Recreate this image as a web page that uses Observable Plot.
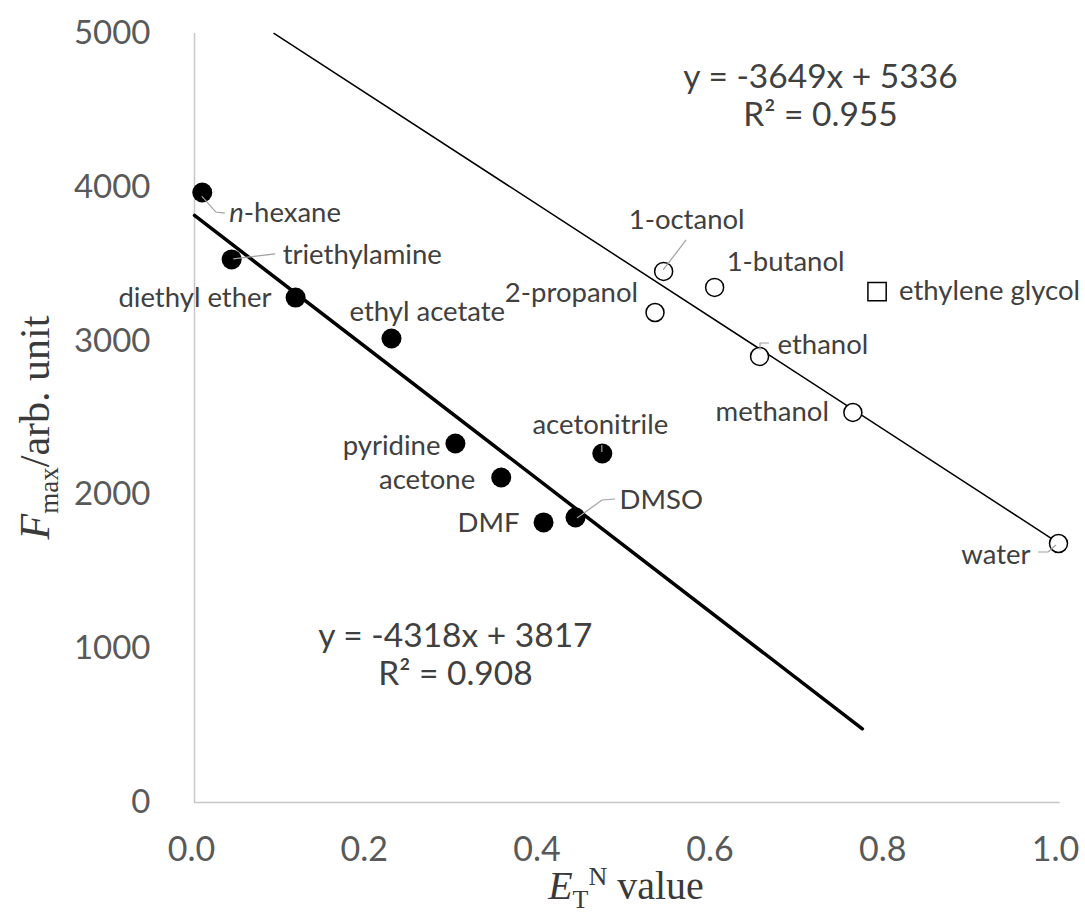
<!DOCTYPE html>
<html>
<head>
<meta charset="utf-8">
<script src="https://cdn.jsdelivr.net/npm/d3@7"></script>
<script src="https://cdn.jsdelivr.net/npm/@observablehq/plot@0.6"></script>
<style>
  html, body { margin: 0; padding: 0; background: #fff; }
  svg { display: block; }
</style>
</head>
<body>
<div id="chart"></div>
<script>
// ---------- data ----------
const aproticNames = ["n-hexane", "triethylamine", "diethyl ether", "ethyl acetate", "pyridine", "acetone", "DMF", "DMSO", "acetonitrile"];
const aproticET    = [0.009, 0.043, 0.117, 0.228, 0.302, 0.355, 0.404, 0.441, 0.472];
const aproticF     = [3966, 3531, 3283, 3017, 2334, 2113, 1821, 1853, 2269];

const proticNames  = ["1-octanol", "2-propanol", "1-butanol", "ethanol", "methanol", "water"];
const proticET     = [0.543, 0.533, 0.602, 0.654, 0.762, 1.0];
const proticF      = [3453, 3186, 3349, 2900, 2536, 1684];

const glycolNames  = ["ethylene glycol"];
const glycolET     = [0.790];
const glycolF      = [3322];

const fitSlopes     = [-4318, -3649];
const fitIntercepts = [3817, 5336];
const fitR2         = ["0.908", "0.955"];
const fitXStart     = [0, 0.092];
const fitXEnd       = [0.773, 1.0];

const xTicks = [0, 0.2, 0.4, 0.6, 0.8, 1.0];
const yTicks = [0, 1000, 2000, 3000, 4000, 5000];

// ---------- layout (label offsets in px relative to the point) ----------
const labelLayout = {
  "n-hexane":        {dx: 27,  dy: 21,  anchor: "start",  leader: [[0, 4], [14, 20], [23, 21]]},
  "triethylamine":   {dx: 51,  dy: -4,  anchor: "start",  leader: [[2, 0], [44, -5]]},
  "diethyl ether":   {dx: -24, dy: 1,   anchor: "end"},
  "ethyl acetate":   {dx: -42, dy: -26, anchor: "start"},
  "pyridine":        {dx: -15, dy: 3,   anchor: "end"},
  "acetone":         {dx: -26, dy: 3,   anchor: "end"},
  "DMF":             {dx: -24, dy: 1,   anchor: "end"},
  "DMSO":            {dx: 44,  dy: -17, anchor: "start",  leader: [[2, 1], [27, -17], [40, -18]]},
  "acetonitrile":    {dx: -2,  dy: -28, anchor: "middle", leader: [[0, -1], [0, -8]]},
  "1-octanol":       {dx: 23,  dy: -51, anchor: "middle", leader: [[0, -1], [23, -31]]},
  "2-propanol":      {dx: -17, dy: -19, anchor: "end"},
  "1-butanol":       {dx: 12,  dy: -25, anchor: "start"},
  "ethanol":         {dx: 18,  dy: -11, anchor: "start",  leader: [[1, -6], [1, -13], [10, -13]]},
  "methanol":        {dx: -24, dy: 0,   anchor: "end"},
  "water":           {dx: -28, dy: 12,  anchor: "end",    leader: [[-2, 2], [-10, 9], [-20, 9]]},
  "ethylene glycol": {dx: 22,  dy: 0,   anchor: "start"}
};
// equation text placement (data units)
const eqLayout = [{x: 0.302, y: 965}, {x: 0.7245, y: 4600}];

// ---------- build tables ----------
const aprotic = aproticNames.map((n, i) => ({name: n, x: aproticET[i], y: aproticF[i]}));
const protic  = proticNames.map((n, i) => ({name: n, x: proticET[i], y: proticF[i]}));
const glycol  = glycolNames.map((n, i) => ({name: n, x: glycolET[i], y: glycolF[i]}));
const allPts  = [...aprotic, ...protic, ...glycol];

const fits = fitSlopes.map((s, i) => ({
  id: i,
  pts: [fitXStart[i], fitXEnd[i]].map(x => ({x, y: s * x + fitIntercepts[i]})),
  text: `y = ${s}x + ${fitIntercepts[i]}\nR² = ${fitR2[i]}`,
  ex: eqLayout[i].x, ey: eqLayout[i].y
}));

const labelFont = "Lato, 'Open Sans', sans-serif";
const textColor = "#404040";

const labelMarks = allPts.map(p => {
  const L = labelLayout[p.name];
  return Plot.text([p], {
    x: "x", y: "y", text: "name",
    dx: L.dx, dy: L.dy, textAnchor: L.anchor,
    fontSize: 27.5, fill: textColor, fontFamily: labelFont
  });
});

const chart = Plot.plot({
  width: 1085,
  height: 918,
  marginLeft: 194,
  marginRight: 27,
  marginTop: 33,
  marginBottom: 116,
  x: {domain: [0, 1]},
  y: {domain: [0, 5000]},
  style: {fontFamily: labelFont, background: "#fff"},
  marks: [
    Plot.axisX({ticks: xTicks, tickSize: 0, tickPadding: 34, fontSize: 34, color: "#595959", tickFormat: d3.format(".1f"), label: null, dx: -3}),
    Plot.axisY({ticks: yTicks, tickSize: 0, tickPadding: 44, fontSize: 33, color: "#595959", tickFormat: d3.format("d"), label: null}),
    Plot.ruleX([0], {y1: 0, y2: 5000, stroke: "#c8c8c8", strokeWidth: 1.5}),
    Plot.ruleY([0], {x1: 0, x2: 1.002, stroke: "#c8c8c8", strokeWidth: 1.5}),
    Plot.line(fits[0].pts, {x: "x", y: "y", stroke: "#000", strokeWidth: 3.5}),
    Plot.line(fits[1].pts, {x: "x", y: "y", stroke: "#000", strokeWidth: 1.5}),
    Plot.dot(aprotic, {x: "x", y: "y", r: 10, fill: "#000", stroke: "none"}),
    Plot.dot(protic, {x: "x", y: "y", r: 9, fill: "#fff", stroke: "#000", strokeWidth: 1.5}),
    Plot.dot(glycol, {x: "x", y: "y", r: 10.3, symbol: "square", fill: "#fff", stroke: "#000", strokeWidth: 1.5}),
    ...labelMarks,
    ...fits.map(f => Plot.text([f], {x: "ex", y: "ey", text: "text", fontSize: 33.5, lineHeight: 1.12, fill: textColor, fontFamily: labelFont, textAnchor: "middle"}))
  ]
});

document.getElementById("chart").appendChild(chart);

// ---------- post: leaders, italics, axis titles ----------
const svg = d3.select(chart);
const sx = chart.scale("x"), sy = chart.scale("y");
const leaderG = svg.append("g").attr("fill", "none").attr("stroke", "#a0a0a0").attr("stroke-width", 1.2);
allPts.forEach(p => {
  const L = labelLayout[p.name];
  if (!L.leader) return;
  const px = sx.apply(p.x), py = sy.apply(p.y);
  leaderG.append("path").attr("d", d3.line()(L.leader.map(([a, b]) => [px + a, py + b])));
});

// italic "n" in n-hexane
svg.selectAll("text").filter(function() { return this.textContent === "n-hexane"; }).each(function() {
  const t = d3.select(this);
  t.text(null);
  t.append("tspan").attr("font-style", "italic").text("n");
  t.append("tspan").text("-hexane");
});

const W = 1085, mL = 194, mR = 27, mT = 33, mB = 116, H = 918;
const serif = "'Liberation Serif', 'Times New Roman', serif";
// x title
const xt = svg.append("text")
  .attr("x", (mL + W - mR) / 2).attr("y", H - 19)
  .attr("text-anchor", "middle").attr("font-family", serif).attr("font-size", 40).attr("fill", "#3a3a3a");
xt.append("tspan").attr("font-style", "italic").text("E");
xt.append("tspan").attr("font-size", 26).attr("dy", 9).text("T");
xt.append("tspan").attr("font-size", 26).attr("dy", -23).text("N");
xt.append("tspan").attr("dy", 14).text(" value");

// y title
const yt = svg.append("text")
  .attr("transform", `translate(49, ${(mT + H - mB) / 2 + 10}) rotate(-90)`)
  .attr("text-anchor", "middle").attr("font-family", serif).attr("font-size", 42).attr("fill", "#3a3a3a");
yt.append("tspan").attr("font-style", "italic").text("F");
yt.append("tspan").attr("font-size", 27).attr("dy", 9).text("max");
yt.append("tspan").attr("dy", -9).text("/arb. unit");
</script>
</body>
</html>
